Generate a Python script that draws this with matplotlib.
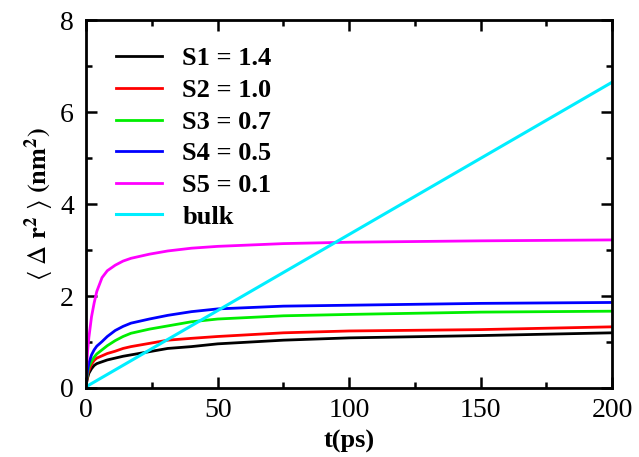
import numpy as np
import matplotlib.pyplot as plt
from matplotlib.ticker import MultipleLocator

plt.rcParams['font.family'] = ['Liberation Serif', 'DejaVu Serif']
plt.rcParams['mathtext.fontset'] = 'stix'

# time axis (ps) and mean square displacement (nm^2) for each layer
t = [0, 0.5, 1, 2, 3, 4, 6, 8, 11, 14, 17, 24, 31, 40, 50, 75, 100, 150, 200]
s1 = [0.08, 0.22, 0.32, 0.42, 0.49, 0.53, 0.57, 0.61, 0.65, 0.69, 0.72, 0.79, 0.86, 0.90, 0.96, 1.04, 1.09, 1.14, 1.20]
s2 = [0.10, 0.28, 0.38, 0.52, 0.60, 0.65, 0.70, 0.75, 0.80, 0.86, 0.90, 0.97, 1.04, 1.08, 1.12, 1.20, 1.24, 1.27, 1.33]
s3 = [0.12, 0.33, 0.46, 0.58, 0.67, 0.74, 0.83, 0.92, 1.03, 1.12, 1.19, 1.28, 1.35, 1.44, 1.50, 1.57, 1.60, 1.65, 1.67]
s4 = [0.15, 0.40, 0.54, 0.72, 0.83, 0.91, 1.01, 1.12, 1.25, 1.34, 1.41, 1.50, 1.58, 1.66, 1.72, 1.78, 1.80, 1.84, 1.86]
s5 = [0.30, 0.80, 1.10, 1.55, 1.85, 2.10, 2.40, 2.55, 2.67, 2.76, 2.82, 2.91, 2.98, 3.04, 3.08, 3.14, 3.17, 3.20, 3.22]
t_bulk = [0, 200]
bulk = [0.03, 6.65]

labels = ['S1 = 1.4', 'S2 = 1.0', 'S3 = 0.7', 'S4 = 0.5', 'S5 = 0.1', 'bulk']
colors = ['#000000', '#ff0000', '#00ee00', '#0000ff', '#ff00ff', '#00eeff']

fig = plt.figure(figsize=(6.39, 4.57), dpi=100)
ax = fig.add_axes([0.135, 0.151, 0.823, 0.805])

for y, lab, c in zip([s1, s2, s3, s4, s5], labels[:5], colors[:5]):
    ax.plot(t, y, color=c, lw=2, label=lab)
ax.plot(t_bulk, bulk, color=colors[5], lw=2.2, label=labels[5])

ax.set_xlim(0, 200)
ax.set_ylim(0, 8)
ax.xaxis.set_major_locator(MultipleLocator(50))
ax.xaxis.set_minor_locator(MultipleLocator(25))
ax.yaxis.set_major_locator(MultipleLocator(2))
ax.yaxis.set_minor_locator(MultipleLocator(1))
ax.tick_params(which='both', direction='in', top=True, right=True, width=1.8,
               labelsize=20)
ax.tick_params(axis='x', pad=7)
ax.tick_params(axis='y', pad=9)
ax.tick_params(which='major', length=8)
ax.tick_params(which='minor', length=4)
for sp in ax.spines.values():
    sp.set_linewidth(2)

ax.set_xlabel('t(ps)', fontsize=19, fontweight='bold', labelpad=5)
ax.set_ylabel(r'$\langle\ \Delta\ \mathbf{r^2}\ \rangle\ \mathbf{(nm^2)}$',
              fontsize=19, labelpad=3)

leg = ax.legend(loc='upper left', bbox_to_anchor=(0.027, 0.97), frameon=False,
                prop={'size': 19, 'weight': 'bold'}, handlelength=1.75,
                handletextpad=0.75, labelspacing=0.31, borderaxespad=0.2)

fig.savefig('out.png', dpi=100)
